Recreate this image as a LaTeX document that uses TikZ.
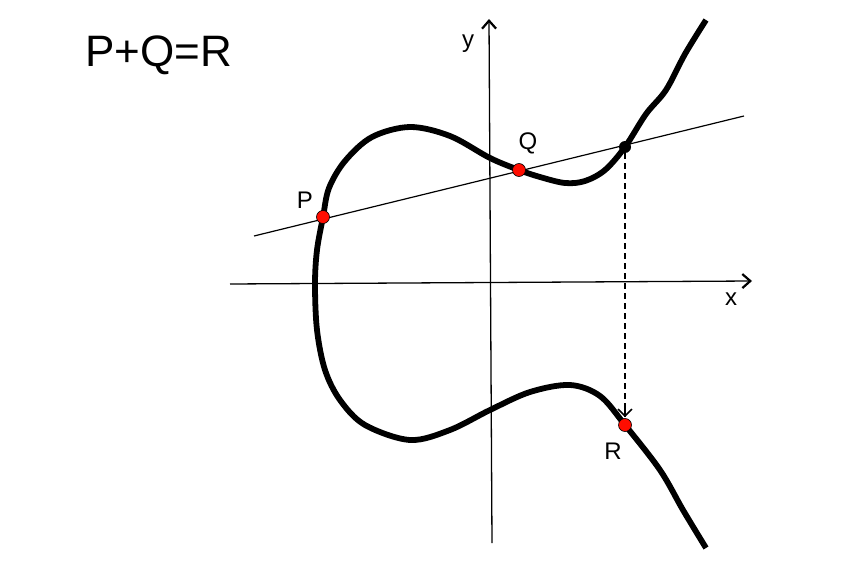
\documentclass[tikz,border=0pt]{standalone}
\usepackage{fontspec}
\setmainfont{Liberation Sans}
\usetikzlibrary{arrows.meta}
\begin{document}
\begin{tikzpicture}[x=1pt,y=-1pt,
  axis/.style={line width=1.3pt},
  axtip/.style={-{Straight Barb[length=8pt,width=14pt,line width=2.2pt]}},
  curve/.style={line width=5.8pt,line join=round},
  secant/.style={line width=1.2pt},
  redpt/.style={circle,fill=red!90!orange,draw=black,line width=0.6pt,minimum size=13pt,inner sep=0pt},
  blackpt/.style={circle,fill=black,minimum size=12pt,inner sep=0pt},
  lbl/.style={font=\fontsize{24}{28}\selectfont,inner sep=0pt}]
\useasboundingbox (0,0) rectangle (868,567);
% axes
\coordinate (xs) at (230,284);
\coordinate (xe) at (752,281);
\coordinate (ys) at (492,543);
\coordinate (ye) at (489,19);
\draw[axis,axtip] (xs) -- (xe);
\draw[axis,axtip] (ys) -- (ye);
% curve
\draw[curve] plot[smooth,tension=0.55] coordinates {
(706,20) (685,54) (666,90) (646,114) (625,147) (605,170) (585,181) (565,183) (540,177) (519,170) (490,158) (450,136) (410,127) (372,137) (345,161) (329,188) (323,217) (317,250) (315,284) (317,330) (325,370) (340,400) (365,425) (410,440) (450,430) (490,410) (530,392) (570,385) (600,396) (625,425) (660,470) (683,510) (706,548)};
% secant
\coordinate (s1) at (254,236);
\coordinate (s2) at (744,116);
\draw[secant] (s1) -- (s2);
% points
\node[blackpt] (T) at (625,147) {};
\node[redpt] (P) at (323,217) {};
\node[redpt] (Q) at (519,170) {};
\node[redpt] (R) at (625,425) {};
\coordinate (Rt) at ([yshift=1pt]R.north);
\draw[line width=1.2pt,dash pattern=on 6pt off 4pt] (T) -- (Rt);
\draw[line width=1.3pt,-{Straight Barb[length=7pt,width=14pt,line width=1.6pt]}] ([yshift=10pt]Rt) -- (Rt);
% labels
\node[lbl] (lP) at (305,200) {P};
\node[lbl] (lQ) at (528,143) {Q};
\node[lbl] (lR) at (613,451) {R};
\node[lbl] (lx) at (731,299) {x};
\node[lbl] (ly) at (468,44) {y};
\node[font=\fontsize{44}{50}\selectfont,inner sep=0pt] (title) at (159,55) {P+Q=R};
\end{tikzpicture}
\end{document}
